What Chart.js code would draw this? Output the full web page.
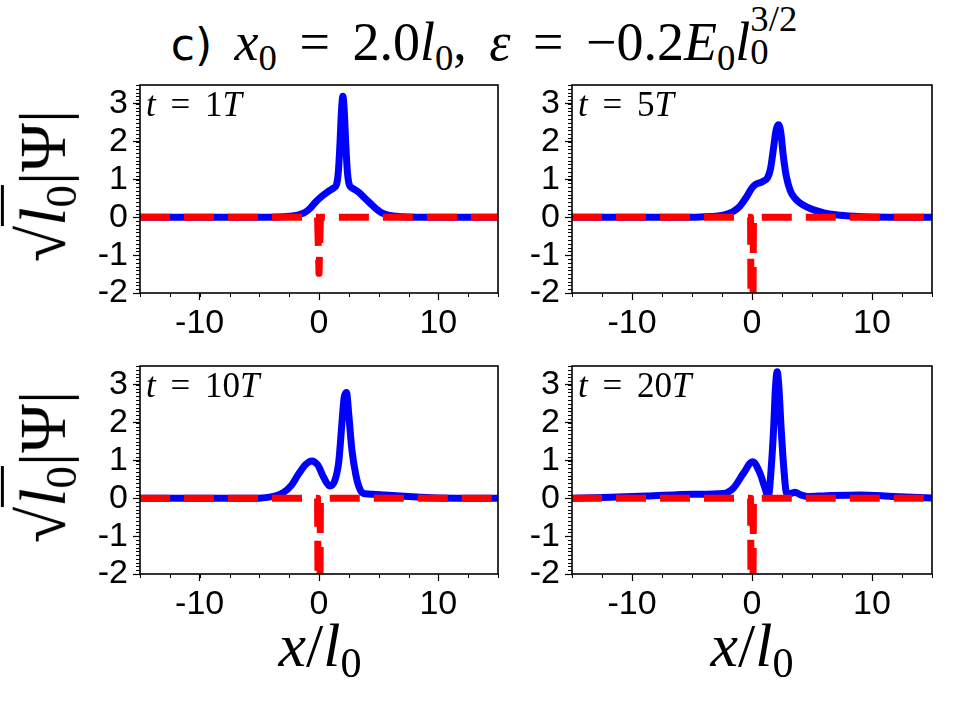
<!DOCTYPE html>
<html>
<head>
<meta charset="utf-8">
<script src="https://cdn.jsdelivr.net/npm/chart.js@4.4.1/dist/chart.umd.min.js"></script>
<style>
  body { margin: 0; background: #fff; }
  #wrap { position: relative; width: 960px; height: 720px; overflow: hidden; background: #fff; }
  canvas { position: absolute; }
  .m { position: absolute; font-family: "Liberation Serif", serif; color: #000; white-space: nowrap; }
  .m i { font-style: italic; }
  .m sub { font-size: 0.68em; vertical-align: -0.25em; font-style: normal; }
  .ylab { font-size: 66px; transform: translate(-50%, -50%) rotate(-90deg); }
  .xlab { font-size: 62px; transform: translateX(-50%); }
  .tlab { font-size: 35px; word-spacing: 6px; }
  .ol { border-top: 3px solid #000; padding-top: 2px; }
</style>
</head>
<body>
<div id="wrap">
  <div class="m" id="title" style="left:4px; width:960px; top:2px; text-align:center; font-size:54px; word-spacing:9px;">
    <span style="font-family:'DejaVu Sans'; font-size:44px;">c)</span>
    <i>x</i><sub>0</sub> = 2.0<i>l</i><sub>0</sub>, <i>ε</i> = −0.2<i>E</i><sub>0</sub><i>l</i><span style="display:inline-block; vertical-align:-0.1em; line-height:0.9; font-size:0.68em; text-align:left;"><span style="display:block;">3/2</span><span style="display:block;">0</span></span>
  </div>

  <canvas id="c1" width="430" height="287" style="left:80px; top:63px;"></canvas>
  <canvas id="c2" width="430" height="287" style="left:512px; top:63px;"></canvas>
  <canvas id="c3" width="430" height="287" style="left:80px; top:344px;"></canvas>
  <canvas id="c4" width="430" height="287" style="left:512px; top:344px;"></canvas>

  <div class="m tlab" style="left:146px; top:85px;"><i>t</i> = 1<i>T</i></div>
  <div class="m tlab" style="left:578px; top:85px;"><i>t</i> = 5<i>T</i></div>
  <div class="m tlab" style="left:146px; top:366px;"><i>t</i> = 10<i>T</i></div>
  <div class="m tlab" style="left:578px; top:366px;"><i>t</i> = 20<i>T</i></div>

  <div class="m ylab" style="left:46px; top:186px;">√<span class="ol"><i>l</i><sub>0</sub></span>|Ψ|</div>
  <div class="m ylab" style="left:46px; top:467px;">√<span class="ol"><i>l</i><sub>0</sub></span>|Ψ|</div>

  <div class="m xlab" style="left:320px; top:610px;"><i>x</i>/<i>l</i><sub>0</sub></div>
  <div class="m xlab" style="left:752px; top:610px;"><i>x</i>/<i>l</i><sub>0</sub></div>
</div>

<script>
// axis ticks
var xTicks = [-10, 0, 10];
var yTicks = [-2, -1, 0, 1, 2, 3];
var xMin = -15, xMax = 15, yMin = -2, yMax = 3.5;

// t = 1T
var x1 = [-15, -5, -3.5, -2.5, -1.8, -1.3, -0.8, -0.3, 0.2, 0.7, 1.2, 1.45, 1.62, 1.75, 1.88, 2.0, 2.12, 2.25, 2.38, 2.55, 2.8, 3.3, 3.8, 4.3, 4.8, 5.3, 5.8, 6.5, 7.5, 9, 15];
var y1 = [0, 0, 0.01, 0.03, 0.06, 0.11, 0.22, 0.4, 0.55, 0.67, 0.77, 0.85, 1.2, 1.9, 2.8, 3.2, 2.8, 1.9, 1.2, 0.85, 0.77, 0.67, 0.52, 0.37, 0.22, 0.11, 0.06, 0.03, 0.01, 0, 0];

// t = 5T
var x2 = [-15, -5, -3.5, -2.5, -1.6, -1.0, -0.5, 0, 0.3, 0.9, 1.3, 1.55, 1.8, 2.0, 2.2, 2.4, 2.6, 2.85, 3.2, 3.6, 4.0, 4.6, 5.2, 6.0, 7.0, 8.5, 10, 15];
var y2 = [0, 0, 0.02, 0.05, 0.15, 0.3, 0.52, 0.78, 0.87, 0.95, 1.05, 1.3, 1.85, 2.3, 2.45, 2.25, 1.65, 1.1, 0.7, 0.5, 0.38, 0.27, 0.19, 0.12, 0.07, 0.03, 0.01, 0];

// t = 10T
var x3 = [-15, -6, -4.8, -3.8, -3.0, -2.3, -1.7, -1.1, -0.6, -0.1, 0.4, 0.9, 1.3, 1.65, 1.9, 2.1, 2.3, 2.5, 2.75, 3.1, 3.5, 3.9, 4.5, 5.5, 6.5, 7.5, 8.5, 10, 15];
var y3 = [0, 0, 0.01, 0.05, 0.15, 0.35, 0.65, 0.9, 0.99, 0.88, 0.55, 0.33, 0.45, 0.95, 1.9, 2.65, 2.8, 2.2, 1.3, 0.6, 0.2, 0.12, 0.11, 0.09, 0.07, 0.05, 0.03, 0.01, 0];

// t = 20T
var x4 = [-15, -12.4, -8.8, -4.9, -2.4, -1.56, -0.72, 0.05, 0.67, 1.1, 1.36, 1.6, 1.81, 1.95, 2.1, 2.25, 2.42, 2.65, 2.89, 3.2, 3.6, 4.0, 4.6, 6.2, 9, 11.8, 15];
var y4 = [0, 0.02, 0.06, 0.11, 0.13, 0.27, 0.66, 0.97, 0.66, 0.25, 0.05, 0.8, 1.9, 2.9, 3.35, 2.9, 1.9, 0.8, 0.13, 0.13, 0.16, 0.1, 0.05, 0.07, 0.09, 0.05, 0.01];

// red dashed curve
var redX = [-15, -0.12, 0, 0.12, 15];
var redY1 = [0, 0, -1.48, 0, 0];
var redY = [0, 0, -8, 0, 0];

function pts(xs, ys) {
    return xs.map(function (v, i) { return { x: v, y: ys[i] }; });
}

var frame = {
    id: 'frame',
    afterDraw: function (chart) {
        var ctx = chart.ctx, a = chart.chartArea;
        var sx = chart.scales.x, sy = chart.scales.y;
        ctx.save();
        ctx.strokeStyle = '#000';
        ctx.lineWidth = 1;
        ctx.beginPath();
        for (var v = xMin; v <= xMax + 1e-9; v += 2.5) {
            var p = Math.round(sx.getPixelForValue(v)) + 0.5;
            ctx.moveTo(p, a.bottom); ctx.lineTo(p, a.bottom + 4);
        }
        for (var i = 0; i <= 55; i++) {
            var q = Math.round(sy.getPixelForValue(yMin + i * 0.1)) + 0.5;
            ctx.moveTo(a.left - 4, q); ctx.lineTo(a.left, q);
        }
        ctx.stroke();
        ctx.lineWidth = 1.6;
        ctx.strokeRect(a.left, a.top, a.right - a.left, a.bottom - a.top);
        ctx.restore();
    }
};

function makeChart(id, xs, ys, ry, padRight) {
    new Chart(document.getElementById(id), {
        type: 'line',
        data: {
            datasets: [{
                data: pts(redX, ry),
                borderColor: '#ff0000',
                borderWidth: 7,
                borderDash: [30, 14],
                borderJoinStyle: 'round',
                pointRadius: 0,
                tension: 0,
                clip: 0,
                order: 0
            }, {
                data: pts(xs, ys),
                borderColor: '#0000ff',
                borderWidth: 7,
                borderJoinStyle: 'round',
                borderCapStyle: 'round',
                pointRadius: 0,
                cubicInterpolationMode: 'monotone',
                clip: 0,
                order: 1
            }]
        },
        options: {
            responsive: false,
            animation: false,
            devicePixelRatio: 1,
            layout: { padding: { left: 0, top: 0, right: padRight, bottom: 0 } },
            plugins: { legend: { display: false }, tooltip: { enabled: false } },
            scales: {
                x: {
                    type: 'linear', min: xMin, max: xMax,
                    afterBuildTicks: function (s) { s.ticks = xTicks.map(function (v) { return { value: v }; }); },
                    afterFit: function (s) { s.height = 57; },
                    grid: { drawOnChartArea: false, tickLength: 7, tickColor: '#000', tickWidth: 1.2 },
                    border: { display: false },
                    ticks: { color: '#000', font: { family: 'Liberation Sans', size: 34 }, padding: 3, maxRotation: 0, autoSkip: false }
                },
                y: {
                    type: 'linear', min: yMin, max: yMax,
                    afterBuildTicks: function (s) { s.ticks = yTicks.map(function (v) { return { value: v }; }); },
                    afterFit: function (s) { s.width = 60; },
                    grid: { drawOnChartArea: false, tickLength: 7, tickColor: '#000', tickWidth: 1.2 },
                    border: { display: false },
                    ticks: { color: '#000', font: { family: 'Liberation Sans', size: 34, lineHeight: 1 }, padding: 5, autoSkip: false }
                }
            }
        },
        plugins: [frame]
    });
}

makeChart('c1', x1, y1, redY1, 12);
makeChart('c2', x2, y2, redY, 10);
makeChart('c3', x3, y3, redY, 12);
makeChart('c4', x4, y4, redY, 10);
</script>
</body>
</html>
